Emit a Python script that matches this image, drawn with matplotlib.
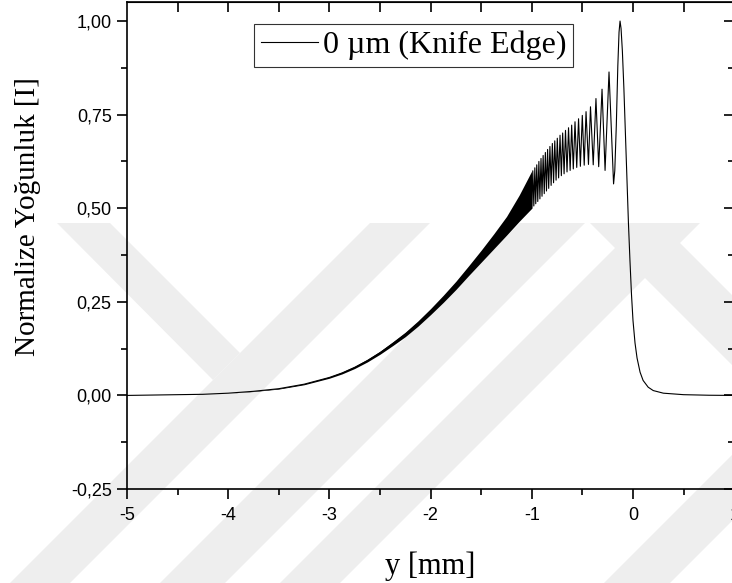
import matplotlib

matplotlib.use("Agg")
import matplotlib.pyplot as plt
from matplotlib.patches import Polygon
from matplotlib.ticker import FuncFormatter, MultipleLocator

plt.rcParams["axes.unicode_minus"] = False

# smooth rise of the beam; fringes here are too fine to resolve -> drawn as a band
band_x = [-5.0, -4.75, -4.5, -4.25, -4.0, -3.75, -3.5, -3.25, -3.0, -2.875, -2.75,
          -2.625, -2.5, -2.375, -2.25, -2.125, -2.0, -1.875, -1.75, -1.625, -1.5,
          -1.375, -1.25, -1.125, -1.0]
band_mid = [0.000, 0.001, 0.002, 0.003, 0.006, 0.011, 0.018, 0.030, 0.048, 0.060, 0.075,
            0.093, 0.114, 0.138, 0.163, 0.192, 0.224, 0.258, 0.294, 0.333, 0.372,
            0.412, 0.453, 0.500, 0.550]
band_half = [0.0, 0.0, 0.0, 0.0, 0.0, 0.0005, 0.001, 0.0015, 0.002, 0.0025, 0.003,
             0.0035, 0.004, 0.005, 0.006, 0.007, 0.008, 0.0095, 0.011, 0.013, 0.016,
             0.020, 0.025, 0.035, 0.050]

# resolved fringes before the edge
peak_x = [-0.990, -0.970, -0.951, -0.930, -0.909, -0.888, -0.866, -0.844, -0.821,
          -0.797, -0.773, -0.748, -0.721, -0.695, -0.667, -0.637, -0.606, -0.573,
          -0.538, -0.501, -0.464, -0.420, -0.366, -0.306, -0.237]
peak_I = [0.600, 0.608, 0.616, 0.625, 0.633, 0.641, 0.649, 0.657, 0.665,
          0.673, 0.680, 0.687, 0.695, 0.701, 0.708, 0.715, 0.722, 0.731,
          0.739, 0.748, 0.758, 0.771, 0.793, 0.818, 0.864]
trough_x = [-1.000, -0.980, -0.961, -0.941, -0.920, -0.899, -0.877, -0.855, -0.833,
            -0.809, -0.785, -0.760, -0.735, -0.708, -0.681, -0.652, -0.621, -0.590,
            -0.556, -0.520, -0.482, -0.440, -0.393, -0.339, -0.276]
trough_I = [0.500, 0.506, 0.512, 0.518, 0.525, 0.532, 0.539, 0.546, 0.553,
            0.561, 0.568, 0.575, 0.581, 0.587, 0.592, 0.597, 0.601, 0.605,
            0.609, 0.612, 0.615, 0.617, 0.616, 0.611, 0.601]

# main fringe, knife edge drop and shadow tail
edge_x = [-0.192, -0.180, -0.165, -0.150, -0.138, -0.128, -0.118, -0.105, -0.090,
          -0.075, -0.060, -0.045, -0.030, -0.015, 0.000, 0.020, 0.040, 0.070,
          0.100, 0.150, 0.200, 0.300, 0.500, 0.750, 1.000]
edge_I = [0.565, 0.600, 0.720, 0.880, 0.970, 1.000, 0.980, 0.920, 0.820,
          0.700, 0.580, 0.460, 0.360, 0.270, 0.200, 0.140, 0.100, 0.062,
          0.040, 0.022, 0.013, 0.006, 0.002, 0.0005, 0.000]

x_ticks = [-5, -4, -3, -2, -1, 0, 1]
y_ticks = [-0.25, 0.0, 0.25, 0.5, 0.75, 1.0]
label_text = "0 \u00b5m (Knife Edge)"

# page watermark stripes, pixel corners (x right, y down) on the 732x583 page
stripes = [
    [(370, 223), (430, 223), (70, 583), (10, 583)],
    [(520, 223), (585, 223), (225, 583), (160, 583)],
    [(640, 223), (700, 223), (340, 583), (280, 583)],
    [(57, 223), (110, 223), (240, 353), (213, 380)],
    [(590, 223), (660, 223), (880, 443), (810, 443)],
    [(604, 583), (670, 583), (820, 433), (754, 433)],
]
STRIPE_COLOR = "#eeeeee"

SERIF = "Liberation Serif"
SANS = "Liberation Sans"
W, H = 732, 583


def build_line():
    xs = list(band_x[:-1])
    ys = list(band_mid[:-1])
    fringes = sorted(list(zip(peak_x, peak_I)) + list(zip(trough_x, trough_I)))
    xs += [p[0] for p in fringes]
    ys += [p[1] for p in fringes]
    xs += edge_x
    ys += edge_I
    return xs, ys


def add_stripes(fig):
    for pts in stripes:
        fpts = [(x / W, 1 - y / H) for x, y in pts]
        fig.patches.append(Polygon(fpts, closed=True, transform=fig.transFigure,
                                   facecolor=STRIPE_COLOR, edgecolor="none", zorder=-5))


def plot_graph():
    fig = plt.figure(figsize=(W / 100, H / 100), dpi=100)
    add_stripes(fig)
    ax = fig.add_axes([0.1735, 0.1612, 0.8295, 0.8348])
    ax.set_facecolor("none")

    lo = [m - h for m, h in zip(band_mid, band_half)]
    hi = [m + h for m, h in zip(band_mid, band_half)]
    ax.fill_between(band_x, lo, hi, color="black", lw=0)
    xs, ys = build_line()
    ax.plot(xs, ys, color="black", lw=0.8, label=label_text)

    ax.set_xlim(-5, 1)
    ax.set_ylim(-0.25, 1.05)
    ax.set_xticks(x_ticks)
    ax.set_yticks(y_ticks)
    ax.xaxis.set_minor_locator(MultipleLocator(0.5))
    ax.yaxis.set_minor_locator(MultipleLocator(0.125))
    ax.xaxis.set_major_formatter(FuncFormatter(lambda v, p: f"{v:.0f}"))
    ax.yaxis.set_major_formatter(FuncFormatter(lambda v, p: f"{v:.2f}".replace(".", ",")))
    ax.tick_params(which="major", direction="out", length=7, width=1.2, labelsize=13, pad=4)
    ax.tick_params(axis="x", which="major", pad=6)
    ax.tick_params(which="minor", direction="out", length=4, width=1.2)
    for lab in ax.get_xticklabels() + ax.get_yticklabels():
        lab.set_fontfamily(SANS)
    for sp in ax.spines.values():
        sp.set_linewidth(1.2)

    # mirrored axes with inward ticks
    top = ax.secondary_xaxis("top")
    top.set_xticks([-4.5, -4, -3.5, -3, -2.5, -2, -1.5, -1, -0.5, 0, 0.5])
    top.tick_params(direction="in", length=7, width=1.2, labeltop=False)
    right = ax.secondary_yaxis("right")
    right.set_yticks(y_ticks)
    right.yaxis.set_minor_locator(MultipleLocator(0.125))
    right.tick_params(which="major", direction="in", length=7, width=1.2, labelright=False)
    right.tick_params(which="minor", direction="in", length=4, width=1.2)

    ax.set_xlabel("y [mm]", fontfamily=SERIF, fontsize=22, labelpad=20)
    ax.set_ylabel("Normalize Yo\u011funluk [I]", fontfamily=SERIF, fontsize=21)
    ax.yaxis.set_label_coords(-0.142, 0.56)

    leg = ax.legend(loc="upper center", bbox_to_anchor=(0.472, 0.955),
                    prop={"family": SERIF, "size": 23}, frameon=True, fancybox=False,
                    handlelength=1.8, handletextpad=0.15, borderpad=0.2,
                    borderaxespad=0)
    leg.get_frame().set_edgecolor("black")
    leg.get_frame().set_linewidth(0.8)

    fig.savefig("out.png", dpi=100)


plot_graph()
